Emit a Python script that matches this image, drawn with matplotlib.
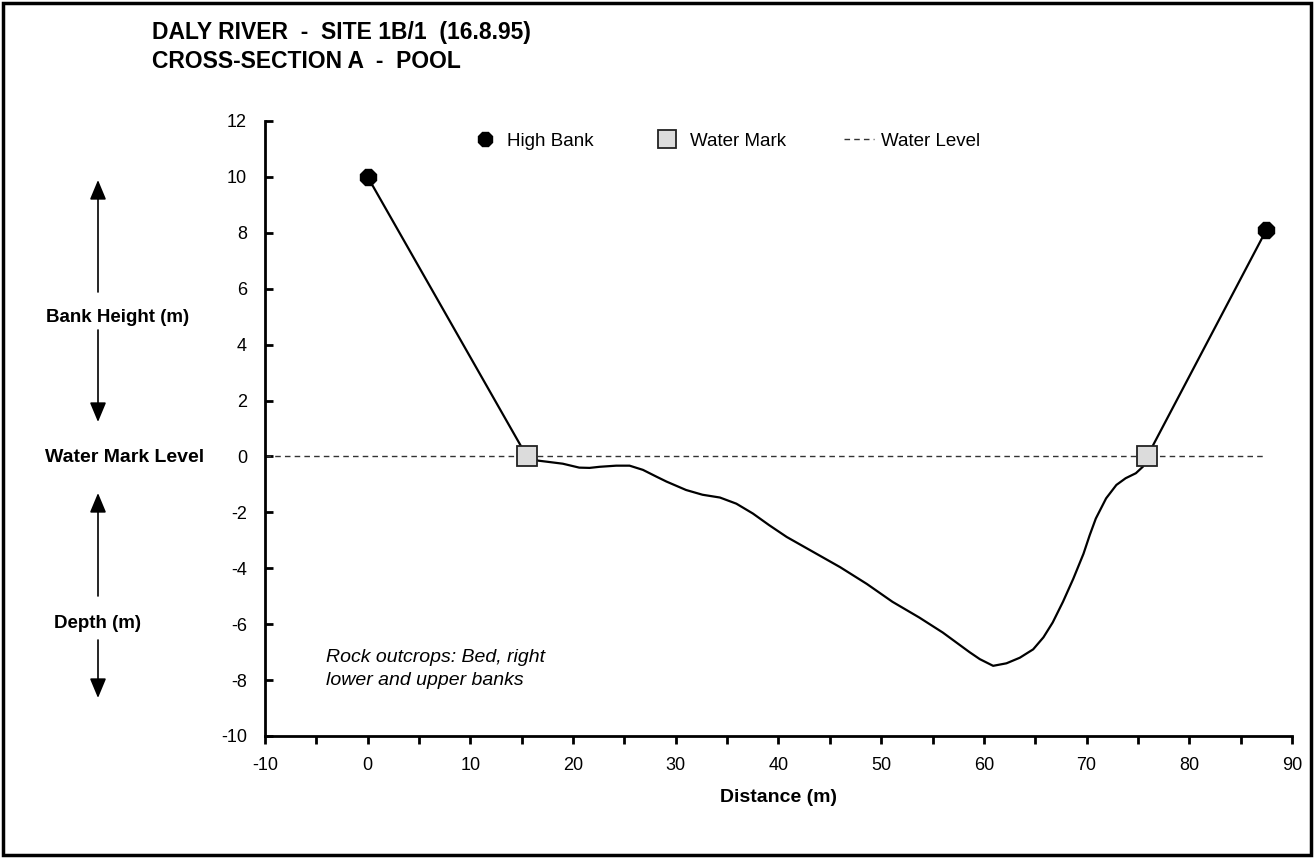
import numpy as np
import matplotlib.pyplot as plt
from matplotlib.patches import Rectangle

plt.rcParams['font.family'] = ['Liberation Sans', 'DejaVu Sans']
plt.rcParams['axes.unicode_minus'] = False

# survey data
bank_x = [0.0, 87.5]
bank_y = [10.0, 8.1]
mark_x = [15.5, 75.9]
mark_y = [0.0, 0.0]
level_x = [-10.0, 87.2]
level_y = [0.0, 0.0]
profile_x = [0.0, 15.5, 16.6, 17.7, 19.0, 19.8, 20.6, 21.6, 22.6, 24.2, 25.5,
             26.8, 28.1, 29.1, 31.0, 32.6, 34.3, 35.9, 37.5, 39.1, 40.8,
             43.4, 46.0, 48.6, 51.1, 53.7, 56.0, 57.3, 58.6, 59.6, 60.9,
             62.2, 63.5, 64.8, 65.8, 66.7, 67.7, 68.7, 69.7, 70.3, 70.9,
             71.9, 72.9, 73.8, 74.8, 75.5, 75.9, 87.5]
profile_y = [10.0, 0.0, -0.15, -0.2, -0.26, -0.33, -0.4, -0.41, -0.37, -0.33, -0.33,
             -0.48, -0.72, -0.9, -1.2, -1.37, -1.47, -1.69, -2.04, -2.46, -2.88,
             -3.42, -3.96, -4.56, -5.2, -5.76, -6.3, -6.65, -7.0, -7.25, -7.49,
             -7.4, -7.2, -6.9, -6.47, -5.94, -5.2, -4.38, -3.48, -2.82, -2.22,
             -1.5, -1.02, -0.78, -0.6, -0.36, 0.0, 8.1]

fig = plt.figure(figsize=(13.15, 8.58), dpi=100)
fig.patches.append(Rectangle((0.002, 0.003), 0.995, 0.994, transform=fig.transFigure,
                             fill=False, edgecolor='black', linewidth=2.5))

ax = fig.add_axes([0.2015, 0.1422, 0.781, 0.7168])
ax.plot(level_x, level_y, color='#333333', linestyle=(0, (4, 3)), linewidth=1,
        label='Water Level')
ax.plot(profile_x, profile_y, color='black', linewidth=1.6, zorder=3,
        solid_joinstyle='round')
ax.plot(bank_x, bank_y, linestyle='none', marker='8', markersize=12,
        color='black', label='High Bank', zorder=4)
ax.plot(mark_x, mark_y, linestyle='none', marker='s', markersize=15,
        markerfacecolor='#dcdcdc', markeredgecolor='#222222', markeredgewidth=1.3,
        label='Water Mark', zorder=4)

ax.set_xlim(-10, 90)
ax.set_ylim(-10, 12)
ax.set_xticks(np.arange(-10, 91, 10))
ax.set_xticks(np.arange(-5, 90, 10), minor=True)
ax.set_yticks(np.arange(-10, 13, 2))
ax.spines['top'].set_visible(False)
ax.spines['right'].set_visible(False)
for s in ['left', 'bottom']:
    ax.spines[s].set_linewidth(2)
ax.tick_params(axis='x', which='both', direction='out', length=6, width=2,
               labelsize=13, pad=9)
ax.tick_params(axis='y', direction='in', length=6, width=2, labelsize=13, pad=13)
ax.set_xlabel('Distance (m)', fontsize=14, fontweight='bold', labelpad=11)

handles, labels = ax.get_legend_handles_labels()
order = [1, 2, 0]
ax.legend([handles[i] for i in order], [labels[i] for i in order], loc='upper center',
          bbox_to_anchor=(0.448, 1.008), ncol=3, frameon=False, fontsize=13.5,
          handlelength=1.6, handletextpad=0.4, columnspacing=3.1, markerscale=0.85)

ax.text(0.059, 0.142, 'Rock outcrops: Bed, right\nlower and upper banks',
        transform=ax.transAxes, fontsize=14, style='italic', va='top',
        linespacing=1.5)

# titles and side annotations in figure pixels
fig.text(152 / 1315, 1 - 33 / 858, 'DALY RIVER  -  SITE 1B/1  (16.8.95)',
         fontsize=16.5, fontweight='bold', va='center')
fig.text(152 / 1315, 1 - 61 / 858, 'CROSS-SECTION A  -  POOL',
         fontsize=16.5, fontweight='bold', va='center')

fig.text(118 / 1315, 1 - 318 / 858, 'Bank Height (m)', fontsize=13.5,
         fontweight='bold', ha='center', va='center')
fig.text(125 / 1315, 1 - 457 / 858, 'Water Mark Level', fontsize=14,
         fontweight='bold', ha='center', va='center')
fig.text(98 / 1315, 1 - 624 / 858, 'Depth (m)', fontsize=13.5,
         fontweight='bold', ha='center', va='center')

arrows = [(292, 180), (330, 422), (596, 493), (640, 698)]
for y0, y1 in arrows:
    ax.annotate('', xy=(98 / 1315, 1 - y1 / 858), xycoords='figure fraction',
                xytext=(98 / 1315, 1 - y0 / 858), textcoords='figure fraction',
                arrowprops=dict(arrowstyle='-|>,head_length=1.2,head_width=0.5',
                                color='black', lw=1.2, shrinkA=0, shrinkB=0))

plt.savefig('out.png', dpi=100)
